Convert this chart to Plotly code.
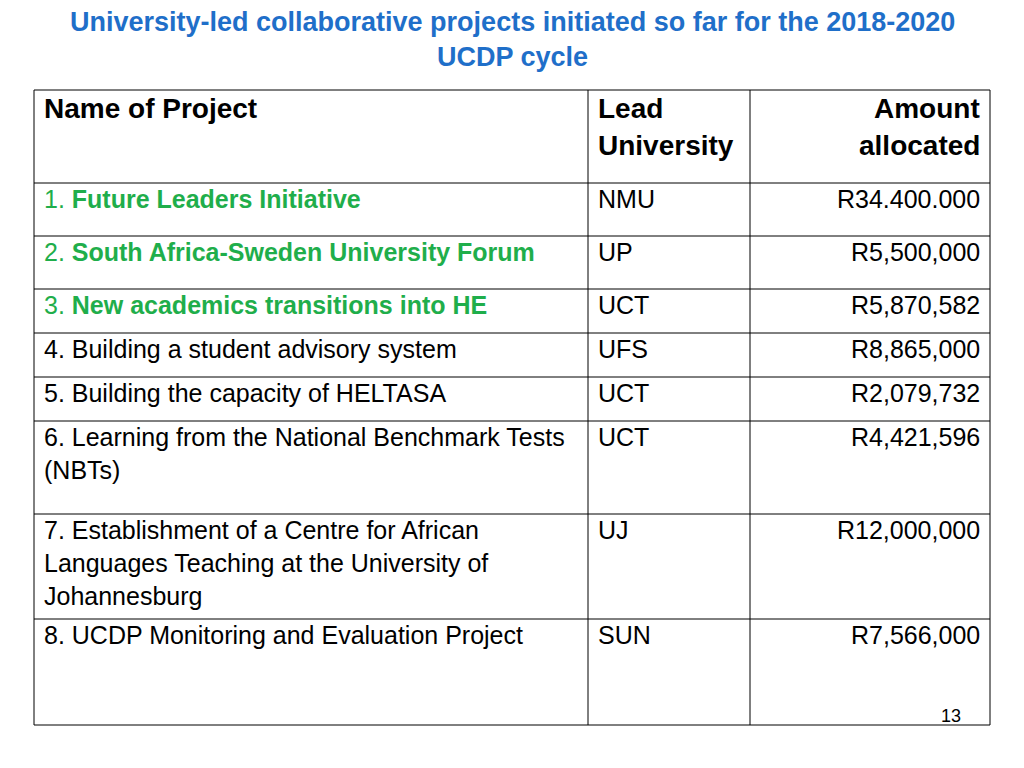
import plotly.graph_objects as go

title_lines = ["University-led collaborative projects initiated so far for the 2018-2020", "UCDP cycle"]
headers = [["Name of Project"], ["Lead", "University"], ["Amount", "allocated"]]
projects = [
    ["1. <b>Future Leaders Initiative</b>"],
    ["2. <b>South Africa-Sweden University Forum</b>"],
    ["3. <b>New academics transitions into HE</b>"],
    ["4. Building a student advisory system"],
    ["5. Building the capacity of HELTASA"],
    ["6. Learning from the National Benchmark Tests", "(NBTs)"],
    ["7. Establishment of a Centre for African", "Languages Teaching at the University of", "Johannesburg"],
    ["8. UCDP Monitoring and Evaluation Project"],
]
universities = ["NMU", "UP", "UCT", "UFS", "UCT", "UCT", "UJ", "SUN"]
amounts = ["R34.400.000", "R5,500,000", "R5,870,582", "R8,865,000", "R2,079,732", "R4,421,596", "R12,000,000", "R7,566,000"]
highlight = [True, True, True, False, False, False, False, False]

col_x = [34, 588, 750, 990]
row_y = [90, 183, 236, 289, 333, 377, 421, 514, 619, 725]

BLUE = "#1f6fc9"
GREEN = "#1fae4b"
FONT = "Liberation Sans, Arial, sans-serif"

fig = go.Figure()
shapes = []
for x in col_x:
    shapes.append(dict(type="line", x0=x, x1=x, y0=row_y[0], y1=row_y[-1], line=dict(color="black", width=1)))
for y in row_y:
    shapes.append(dict(type="line", x0=col_x[0], x1=col_x[-1], y0=y, y1=y, line=dict(color="black", width=1)))

ann = []
for i, line in enumerate(title_lines):
    ann.append(dict(x=512, y=22 + 35 * i, text=f"<b>{line}</b>", showarrow=False, xanchor="center", yanchor="middle",
                    font=dict(family=FONT, size=27, color=BLUE)))

for c, lines in enumerate(headers):
    for j, line in enumerate(lines):
        right = c == 2
        ann.append(dict(x=(col_x[c + 1] - 8) if right else (col_x[c] + 8), y=108 + 37 * j, text=f"<b>{line}</b>",
                        showarrow=False, xanchor="right" if right else "left", yanchor="middle",
                        font=dict(family=FONT, size=28, color="black")))

for r in range(len(projects)):
    top = row_y[r + 1]
    color = GREEN if highlight[r] else "black"
    for j, line in enumerate(projects[r]):
        ann.append(dict(x=col_x[0] + 8, y=top + 16 + 33 * j, text=line, showarrow=False, xanchor="left", yanchor="middle",
                        font=dict(family=FONT, size=25, color=color)))
    ann.append(dict(x=col_x[1] + 8, y=top + 16, text=universities[r], showarrow=False, xanchor="left", yanchor="middle",
                    font=dict(family=FONT, size=25, color="black")))
    ann.append(dict(x=col_x[3] - 8, y=top + 16, text=amounts[r], showarrow=False, xanchor="right", yanchor="middle",
                    font=dict(family=FONT, size=25, color="black")))

ann.append(dict(x=951, y=716, text="13", showarrow=False, xanchor="center", yanchor="middle",
                font=dict(family=FONT, size=18, color="black")))

fig.update_layout(width=1024, height=768, margin=dict(l=0, r=0, t=0, b=0),
                  plot_bgcolor="white", paper_bgcolor="white", shapes=shapes, annotations=ann,
                  xaxis=dict(range=[8, 1032], visible=False, fixedrange=True),
                  yaxis=dict(range=[776, 8], visible=False, fixedrange=True), showlegend=False)
fig.write_html("out.html")
